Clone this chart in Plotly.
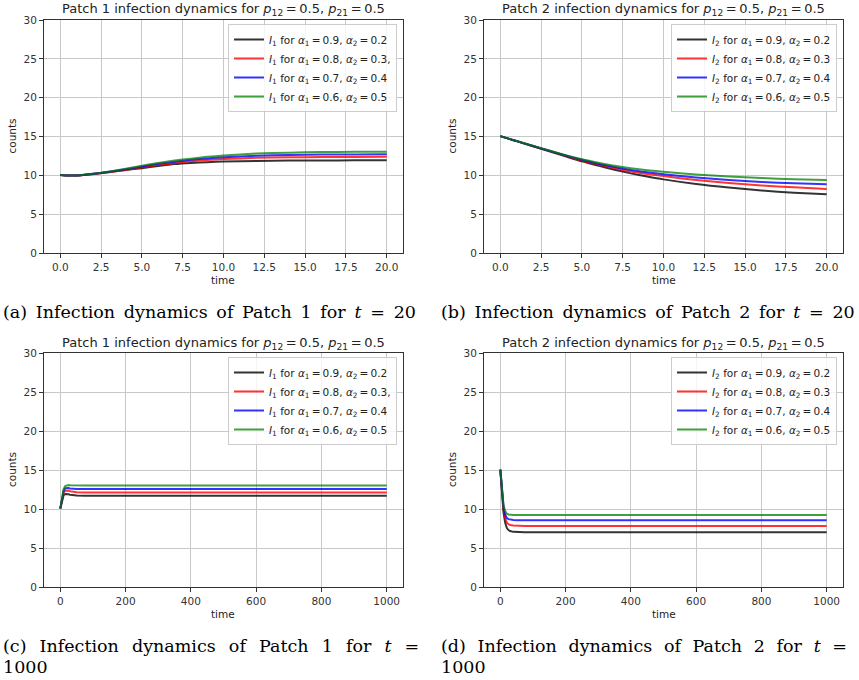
import plotly.graph_objects as go

W, H = 859, 680

# ---------------- data ----------------
t_short = [0, 0.5, 1, 2, 3, 4, 5, 6, 7, 8, 9, 10, 12, 14, 16, 18, 20]
p1_short_black = [10.05, 9.97, 9.98, 10.2, 10.42, 10.68, 10.92, 11.2, 11.45, 11.6, 11.7, 11.77, 11.85, 11.9, 11.92, 11.93, 11.93]
p1_short_red = [10.05, 9.97, 9.98, 10.15, 10.4, 10.7, 11.03, 11.35, 11.6, 11.82, 11.98, 12.1, 12.25, 12.32, 12.35, 12.37, 12.38]
p1_short_blue = [10.05, 9.97, 9.99, 10.18, 10.45, 10.78, 11.14, 11.48, 11.76, 12.0, 12.18, 12.33, 12.52, 12.62, 12.67, 12.69, 12.7]
p1_short_green = [10.05, 9.97, 9.99, 10.2, 10.5, 10.85, 11.25, 11.6, 11.9, 12.15, 12.38, 12.55, 12.8, 12.92, 12.99, 13.03, 13.05]

p2_short_black = [15.05, 14.72, 14.4, 13.75, 13.1, 12.45, 11.8, 11.25, 10.72, 10.25, 9.85, 9.48, 8.88, 8.42, 8.05, 7.76, 7.55]
p2_short_red = [15.05, 14.72, 14.4, 13.77, 13.15, 12.52, 11.9, 11.4, 10.92, 10.5, 10.18, 9.9, 9.4, 9.0, 8.7, 8.45, 8.25]
p2_short_blue = [15.05, 14.72, 14.41, 13.78, 13.17, 12.56, 12.0, 11.5, 11.08, 10.7, 10.4, 10.15, 9.72, 9.4, 9.15, 8.98, 8.85]
p2_short_green = [15.05, 14.72, 14.42, 13.8, 13.2, 12.6, 12.07, 11.62, 11.22, 10.9, 10.65, 10.45, 10.1, 9.85, 9.65, 9.5, 9.4]

t_long = [0, 5, 10, 15, 20, 25, 30, 40, 50, 75, 100, 200, 400, 600, 800, 1000]
p1_long_black = [10.05, 10.92, 11.77, 11.91, 11.93, 11.88, 11.82, 11.75, 11.72, 11.7, 11.7, 11.7, 11.7, 11.7, 11.7, 11.7]
p1_long_red = [10.05, 11.03, 12.1, 12.33, 12.38, 12.35, 12.28, 12.2, 12.16, 12.13, 12.13, 12.13, 12.13, 12.13, 12.13, 12.13]
p1_long_blue = [10.05, 11.14, 12.33, 12.65, 12.7, 12.68, 12.64, 12.6, 12.58, 12.56, 12.56, 12.56, 12.56, 12.56, 12.56, 12.56]
p1_long_green = [10.05, 11.25, 12.55, 12.94, 13.05, 13.08, 13.06, 13.03, 13.01, 13.0, 13.0, 13.0, 13.0, 13.0, 13.0, 13.0]

p2_long_black = [15.05, 11.8, 9.48, 8.22, 7.55, 7.3, 7.17, 7.07, 7.04, 7.02, 7.02, 7.02, 7.02, 7.02, 7.02, 7.02]
p2_long_red = [15.05, 11.9, 9.9, 8.85, 8.25, 8.05, 7.95, 7.88, 7.85, 7.83, 7.83, 7.83, 7.83, 7.83, 7.83, 7.83]
p2_long_blue = [15.05, 12.0, 10.15, 9.27, 8.85, 8.7, 8.63, 8.59, 8.57, 8.57, 8.57, 8.57, 8.57, 8.57, 8.57, 8.57]
p2_long_green = [15.05, 12.07, 10.45, 9.75, 9.4, 9.3, 9.26, 9.23, 9.22, 9.22, 9.22, 9.22, 9.22, 9.22, 9.22, 9.22]

TS = "\u2009"  # thin space, mathtext-like spacing
alpha_labels = [f"<i>α</i><sub>1</sub>{TS}={TS}0.9, <i>α</i><sub>2</sub>{TS}={TS}0.2",
                f"<i>α</i><sub>1</sub>{TS}={TS}0.8, <i>α</i><sub>2</sub>{TS}={TS}0.3",
                f"<i>α</i><sub>1</sub>{TS}={TS}0.7, <i>α</i><sub>2</sub>{TS}={TS}0.4",
                f"<i>α</i><sub>1</sub>{TS}={TS}0.6, <i>α</i><sub>2</sub>{TS}={TS}0.5"]
p1_suffix = ["", ",", "", ""]
colors = ["rgba(0,0,0,0.8)", "rgba(255,0,0,0.8)", "rgba(0,0,255,0.8)", "rgba(0,128,0,0.75)"]

short_ticks = [0, 2.5, 5, 7.5, 10, 12.5, 15, 17.5, 20]
short_ticktext = ["0.0", "2.5", "5.0", "7.5", "10.0", "12.5", "15.0", "17.5", "20.0"]
long_ticks = [0, 200, 400, 600, 800, 1000]
y_ticks = [0, 5, 10, 15, 20, 25, 30]

title_txt = [f"Patch 1 infection dynamics for <i>p</i><sub>12</sub>{TS}={TS}0.5, <i>p</i><sub>21</sub>{TS}={TS}0.5",
             f"Patch 2 infection dynamics for <i>p</i><sub>12</sub>{TS}={TS}0.5, <i>p</i><sub>21</sub>{TS}={TS}0.5"]

# ---------------- layout geometry (pixels) ----------------
panels = [
    dict(x0=44, x1=403, y0=20, y1=253),
    dict(x0=484, x1=843, y0=20, y1=253),
    dict(x0=44, x1=403, y0=353, y1=587),
    dict(x0=484, x1=843, y0=353, y1=587),
]

def px(x):
    return x / W

def py(y):
    return 1 - y / H

fig = go.Figure()

series = [
    (t_short, [p1_short_black, p1_short_red, p1_short_blue, p1_short_green], 1, "spline"),
    (t_short, [p2_short_black, p2_short_red, p2_short_blue, p2_short_green], 2, "spline"),
    (t_long, [p1_long_black, p1_long_red, p1_long_blue, p1_long_green], 1, "linear"),
    (t_long, [p2_long_black, p2_long_red, p2_long_blue, p2_long_green], 2, "linear"),
]

for i, (tt, ys, patch, shape) in enumerate(series):
    ax = "" if i == 0 else str(i + 1)
    leg = "legend" if i == 0 else f"legend{i+1}"
    for j, yv in enumerate(ys):
        suffix = p1_suffix[j] if patch == 1 else ""
        name = f"<i>I</i><sub>{patch}</sub> for " + alpha_labels[j] + suffix
        fig.add_trace(go.Scatter(
            x=tt, y=yv, mode="lines", name=name,
            line=dict(color=colors[j], width=2, shape=shape, smoothing=0.6),
            xaxis="x" + ax, yaxis="y" + ax, legend=leg, showlegend=True,
        ))

axis_common = dict(
    showgrid=True, gridcolor="#c8c8c8", gridwidth=1,
    showline=True, linecolor="#333", linewidth=1, mirror=True,
    ticks="outside", ticklen=4, tickcolor="#333",
    tickfont=dict(family="DejaVu Sans", size=10.5, color="#333"),
    zeroline=False, automargin=False,
)

layout = dict(
    width=W, height=H, margin=dict(l=0, r=0, t=0, b=0, pad=0, autoexpand=False),
    plot_bgcolor="white", paper_bgcolor="white",
    annotations=[],
)

legend_style = dict(
    bgcolor="rgba(255,255,255,0.8)", bordercolor="#cccccc", borderwidth=1,
    font=dict(family="DejaVu Sans", size=10.5, color="#222"),
    xanchor="right", yanchor="top", tracegroupgap=0, itemwidth=30,
)

for i, p in enumerate(panels):
    ax = "" if i == 0 else str(i + 1)
    xr = [-1, 21] if i < 2 else [-50, 1050]
    xa = dict(axis_common, domain=[px(p["x0"]), px(p["x1"])], range=xr,
              anchor="y" + ax)
    if i < 2:
        xa.update(tickvals=short_ticks, ticktext=short_ticktext)
    else:
        xa.update(tickvals=long_ticks)
    ya = dict(axis_common, domain=[py(p["y1"]), py(p["y0"])], range=[0, 30],
              tickvals=y_ticks, anchor="x" + ax)
    layout["xaxis" + ax] = xa
    layout["yaxis" + ax] = ya
    legkey = "legend" if i == 0 else f"legend{i+1}"
    layout[legkey] = dict(legend_style, x=px(p["x1"] - 6), y=py(p["y0"] + 4))
    cx = (p["x0"] + p["x1"]) / 2
    # subplot title
    layout["annotations"].append(dict(
        text=title_txt[i % 2], x=px(cx), y=py(p["y0"] - 10), xref="paper", yref="paper",
        showarrow=False, font=dict(family="DejaVu Sans", size=13, color="#222"),
        xanchor="center", yanchor="middle"))
    # x axis title
    layout["annotations"].append(dict(
        text="time", x=px(cx), y=py(p["y1"] + 27), xref="paper", yref="paper",
        showarrow=False, font=dict(family="DejaVu Sans", size=10.5, color="#222"),
        xanchor="center", yanchor="middle"))
    # y axis title
    layout["annotations"].append(dict(
        text="counts", x=px(p["x0"] - 32), y=py((p["y0"] + p["y1"]) / 2), xref="paper", yref="paper",
        showarrow=False, textangle=-90, font=dict(family="DejaVu Sans", size=10.5, color="#222"),
        xanchor="center", yanchor="middle"))

EN = "\u2002"
G1 = "\u2002\u2005"  # justified gap, left column
G2 = "\u2002\u2006"  # justified gap, right column (slightly narrower)
captions = [
    (f"(a){EN}Infection{EN}dynamics{EN}of{EN}Patch{EN}1{EN}for{EN}<i>t</i>{EN}={EN}20", 1, 312),
    (f"(b){EN}Infection{EN}dynamics{EN}of{EN}Patch{EN}2{EN}for{EN}<i>t</i>{EN}={EN}20", 439, 312),
    (f"(c){G1}Infection{G1}dynamics{G1}of{G1}Patch{G1}1{G1}for{G1}<i>t</i>{G1}=", 1, 646),
    (f"(d){G2}Infection{G2}dynamics{G2}of{G2}Patch{G2}2{G2}for{G2}<i>t</i>{G2}=", 439, 646),
    ("1000", 1, 667),
    ("1000", 439, 667),
]
for txt, x, y in captions:
    layout["annotations"].append(dict(
        text=txt, x=px(x), y=py(y), xref="paper", yref="paper", showarrow=False,
        font=dict(family="DejaVu Serif", size=17.5, color="black"),
        xanchor="left", yanchor="middle"))

fig.update_layout(**layout)
fig.write_html("out.html", config={"displayModeBar": False},
               post_script="document.body.style.margin='0px';")
